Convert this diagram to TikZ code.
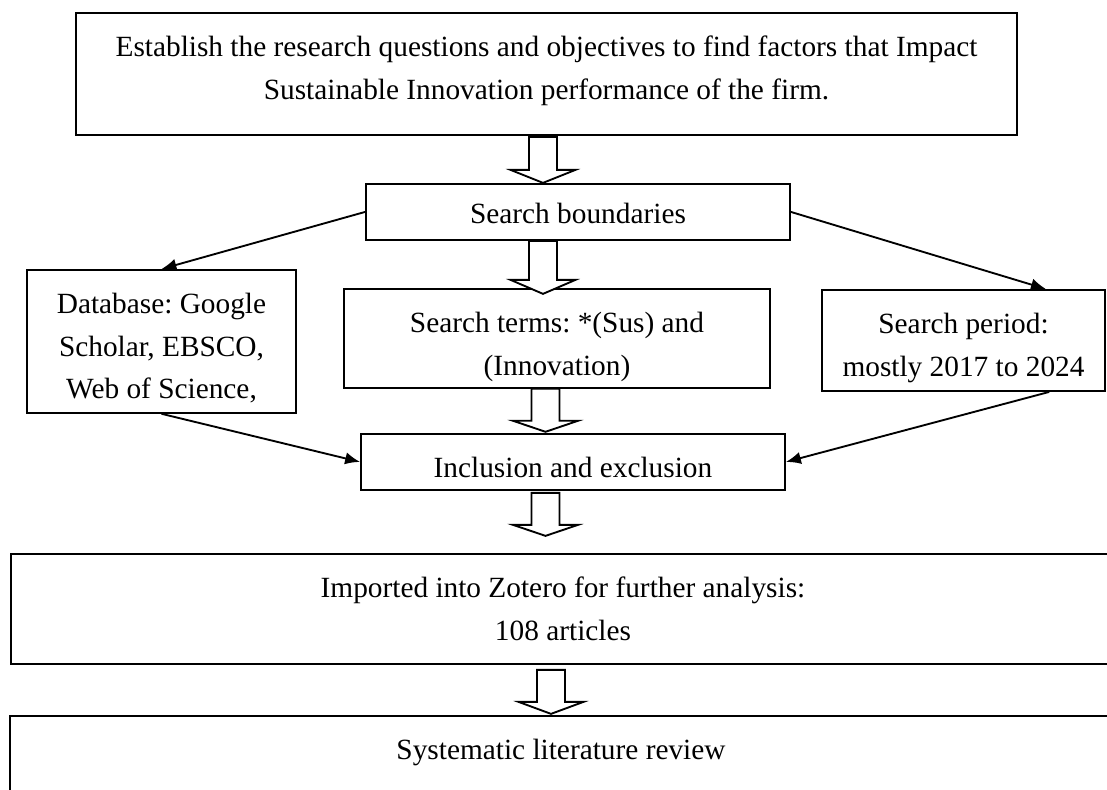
\documentclass[tikz,border=0pt]{standalone}
\usepackage{fontspec}
\setmainfont{Liberation Serif}
\usetikzlibrary{arrows.meta}

\begin{document}
\begin{tikzpicture}[
x=0.375pt,y=-0.375pt,
font=\fontsize{11}{16}\selectfont\frenchspacing,
box/.style={
  draw,
  line width=0.7pt,
  align=flush center,
  anchor=north,
  inner sep=0pt,
  text height=16.3pt
},
hollow/.style={
  draw,
  line width=0.7pt,
  fill=white,
  line join=miter
},
link/.style={
  line width=0.7pt,
  -{Latex[length=5.6pt,width=4.6pt]}
}
]
\useasboundingbox (0,0) rectangle (1107,790);
\clip (0,0) rectangle (1107,790);
\coordinate (spine) at (545,0);

\node[box,text width=352.9pt,text depth=29.45pt] at (546.5,12)
  (goal) {Establish the research questions and objectives to find factors that Impact\\
  Sustainable Innovation performance of the firm.};
\node[box,text width=159pt,text height=14.8pt,text depth=6.2pt] at (578,183)
  (bounds) {Search boundaries};
\node[box,text width=100.9pt,text depth=37.3pt] at (161.5,269)
  (db) {Database: Google\\Scholar, EBSCO,\\Web of Science,};
\node[box,text width=159.75pt,text depth=20.8pt] at (557,288)
  (terms) {Search terms: *(Sus) and\\(Innovation)};
\node[box,text width=106.1pt,text depth=21.6pt] at (963.5,289)
  (period) {Search period:\\mostly 2017 to 2024};
\node[box,text width=159pt,text depth=4.7pt] at (573,433)
  (incl) {Inclusion and exclusion};
\node[box,text width=414pt,text depth=24.95pt] at (563,553)
  (zotero) {Imported into Zotero for further analysis:\\108 articles};
\node[box,text width=413.25pt,text depth=24.95pt] at (561,715)
  (review) {Systematic literature review};

% side links
\draw[link] (bounds.west) -- (db.north);
\draw[link] (bounds.east) -- (period.32);
\draw[link] (db.south) -- (incl.west);
\draw[link] (period.-31) -- (incl.east);

% open block arrows down the middle
\draw[hollow] (spine|-goal.south) ++(-16,1) -- ++(0,33) -- ++(-18.5,0) -- ++(32.5,13) -- ++(32.5,-13) -- ++(-18.5,0) -- ++(0,-33) -- cycle;
\draw[hollow] (spine|-bounds.south) ++(-16,0) -- ++(0,39) -- ++(-18.5,0) -- ++(32.5,14) -- ++(32.5,-14) -- ++(-18.5,0) -- ++(0,-39) -- cycle;
\draw[hollow] (spine|-terms.south) ++(-13.5,0) -- ++(0,32) -- ++(-18.5,0) -- ++(32.5,11) -- ++(32.5,-11) -- ++(-18.5,0) -- ++(0,-32) -- cycle;
\draw[hollow] (spine|-incl.south) ++(-13.5,2) -- ++(0,32) -- ++(-18.5,0) -- ++(32.5,11) -- ++(32.5,-11) -- ++(-18.5,0) -- ++(0,-32) -- cycle;
\draw[hollow] (spine|-zotero.south) ++(-8,5) -- ++(0,32) -- ++(-18.5,0) -- ++(32.5,12) -- ++(32.5,-12) -- ++(-18.5,0) -- ++(0,-32) -- cycle;
\end{tikzpicture}
\end{document}
